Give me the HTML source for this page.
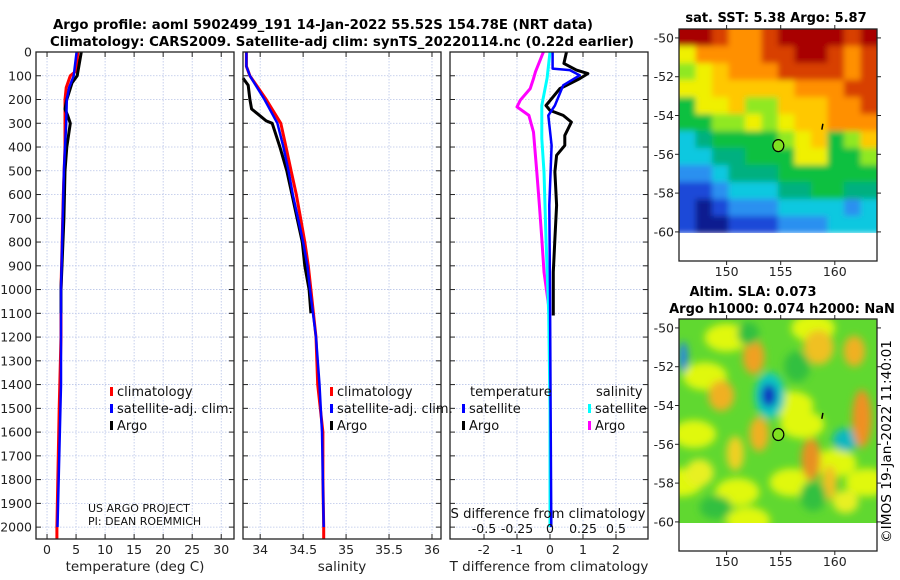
<!DOCTYPE html>
<html><head><meta charset="utf-8">
<style>
html,body{margin:0;padding:0;background:#fff;}
svg{display:block;font-family:"DejaVu Sans","Liberation Sans",sans-serif;}
</style></head>
<body>
<svg id="fig" width="900" height="580" viewBox="0 0 900 580" xmlns="http://www.w3.org/2000/svg">
<defs>
<filter id="blur6" x="-50%" y="-50%" width="200%" height="200%"><feGaussianBlur stdDeviation="4"/></filter>
<filter id="blur2" x="-5%" y="-5%" width="110%" height="110%"><feGaussianBlur stdDeviation="3"/></filter>
<clipPath id="clipSST"><rect x="679" y="29" width="198" height="204"/></clipPath>
<clipPath id="clipSLA"><rect x="679" y="319" width="198" height="204"/></clipPath>
</defs>
<text x="323" y="29" text-anchor="middle" font-weight="bold" font-size="13" textLength="540" lengthAdjust="spacingAndGlyphs">Argo profile: aoml 5902499_191 14-Jan-2022 55.52S 154.78E (NRT data)</text>
<text x="342" y="46" text-anchor="middle" font-weight="bold" font-size="13" textLength="584" lengthAdjust="spacingAndGlyphs">Climatology: CARS2009. Satellite-adj clim: synTS_20220114.nc (0.22d earlier)</text>
<g id="plots"></g>
<g id="maps"></g>
<text transform="translate(891,543) rotate(-90)" font-size="13" textLength="203" lengthAdjust="spacingAndGlyphs">©IMOS 19-Jan-2022 11:40:01</text>
</svg>
<script>
// ---------- data ----------
const tempDepth = [0,80,100,150,200,400,600,1000,1200,1500,2000,2050];
const tempClim  = [5.3,5.0,4.0,3.3,3.1,3.1,2.8,2.4,2.4,2.1,1.7,1.7];
const tempSatDepth = [0,100,150,200,300,500,1000,1400,2000];
const tempSat   = [5.1,4.6,3.8,3.4,3.3,2.9,2.4,2.4,1.8];
const tempArgoDepth = [0,100,130,200,240,270,300,400,500,700,1000,1100];
const tempArgo  = [5.9,5.2,4.3,3.4,3.1,3.6,4.0,3.4,3.1,2.9,2.4,2.4];

const salDepth = [0,60,100,200,300,400,500,600,700,800,900,1000,1200,1400,1600,1800,2000,2050];
const salClim  = [33.84,33.84,33.88,34.07,34.24,34.30,34.36,34.42,34.47,34.52,34.56,34.59,34.65,34.67,34.73,34.73,34.74,34.74];
const salSatDepth = [0,60,100,200,300,400,500,600,700,800,900,1000,1200,1400,1600,2000];
const salSat   = [33.84,33.84,33.88,34.05,34.20,34.27,34.33,34.38,34.44,34.50,34.55,34.58,34.65,34.69,34.72,34.74];
const salArgoDepth = [110,140,200,240,260,290,300,400,500,600,700,800,900,1000,1100];
const salArgo  = [33.80,33.86,33.88,33.90,33.97,34.07,34.14,34.23,34.31,34.37,34.43,34.49,34.52,34.57,34.59];

const dTArgoDepth = [0,48,76,91,112,154,225,246,267,295,351,393,435,505,645,786,926,1109];
const dTArgo = [0.5,0.42,0.8,1.15,0.9,0.3,-0.12,0.0,0.4,0.65,0.45,0.45,0.2,0.15,0.2,0.15,0.1,0.1];
const dTSatDepth = [0,70,76,98,140,225,267,393,645,1000,1500,2000];
const dTSat = [0.08,0.08,0.6,0.9,0.4,0.15,-0.05,0.05,-0.02,0.0,0.02,0.04];
const dSSatDepth = [0,110,225,365,505,786,1100,1500,2000];
const dSSat = [0,-0.022,-0.062,-0.062,-0.045,-0.03,-0.01,0,0];
const dSArgoDepth = [0,83,112,154,203,231,267,337,505,645,786,926,1109];
const dSArgo = [-0.05,-0.11,-0.125,-0.15,-0.225,-0.25,-0.16,-0.125,-0.1,-0.08,-0.062,-0.045,0];

const depthTicks = [0,100,200,300,400,500,600,700,800,900,1000,1100,1200,1300,1400,1500,1600,1700,1800,1900,2000];
const tempTicks = [0,5,10,15,20,25,30];
const salTicks = [34,34.5,35,35.5,36];
const dTTicks = [-2,-1,0,1,2];
const dSTicks = [-0.5,-0.25,0,0.25,0.5];

// SST map grid (0 navy ... 11 dark red), rows north->south
const sstGrid = [
 [11,11,10,9,9,10,11,11,11,11,10,11],
 [7,9,9,9,9,10,10,11,11,10,9,10],
 [6,7,8,9,9,9,10,10,10,10,9,10],
 [7,7,8,8,8,8,8,9,9,9,10,10],
 [5,7,7,8,6,6,8,8,8,9,9,10],
 [5,5,6,6,7,6,7,8,8,9,9,9],
 [3,4,5,5,5,5,6,7,8,5,6,8],
 [3,3,4,4,5,5,5,7,7,5,5,6],
 [2,2,3,4,4,4,5,5,5,5,5,5],
 [1,1,2,3,3,3,4,4,5,5,4,4],
 [1,0,1,2,2,2,3,3,3,3,2,3],
 [1,0,0,1,1,1,2,2,2,3,3,3]];
const sstColors = ['#0a1a90','#1a4ad8','#2a90f0','#10c8e0','#00b080','#10c040','#90e820','#f0f000','#ffc800','#ff9000','#d84000','#a80000'];
// SLA blobs: lon, lat, rx(deg), ry(deg), color
const slaLon = [154.0,153.9,161.0,146.0,152.5,149.5,153.0,157.8,162.5,158.5,161.8,150.8,159.5,147.5,156.5,152.0,158.0,149.0,161.0];
const slaLat = [-53.5,-53.5,-55.8,-51.5,-51.5,-53.5,-55.5,-56.8,-54.7,-51.0,-51.2,-56.5,-58.0,-57.5,-52.0,-50.3,-58.7,-59.3,-59.0];
const slaRx  = [1.4,0.7,1.2,0.4,1.0,1.2,0.9,0.9,0.9,1.4,1.0,0.8,0.7,1.3,1.2,1.0,1.2,1.5,1.2];
const slaRy  = [1.2,0.6,0.6,0.8,0.9,0.8,0.9,1.1,1.5,0.9,0.8,0.9,0.9,0.7,0.8,0.6,0.8,0.6,0.6];
const slaCol = ['#10c8c0','#1030c0','#10b8c0','#2080f0','#f0a020','#f0b020','#f0b020','#e89020','#f09020','#f0c020','#f0b020','#f0d020','#f0c020','#e8f020','#30c040','#30c040','#30c040','#30c040','#e8f020'];

// ---------- helpers ----------
const NS='http://www.w3.org/2000/svg';
function mk(tag, attrs, parent, txt){
  const e=document.createElementNS(NS,tag);
  for(const k in attrs) e.setAttribute(k,attrs[k]);
  if(txt!==undefined) e.textContent=txt;
  parent.appendChild(e); return e;
}
const plots=document.getElementById('plots');
const Y0=52, Y1=539;
const yScale = d => Y0 + d*(Y1-Y0)/2050;

function panel(name, x0, x1, dmin, dmax, ticks, tickFmt, xlabel, showY){
  const g=mk('g',{},plots);
  
  
  const xs = v => x0 + (v-dmin)*(x1-x0)/(dmax-dmin);
  depthTicks.forEach(d=>{
    const l=mk('line',{x1:x0,x2:x1,y1:yScale(d),y2:yScale(d),stroke:'#b8c4e8','stroke-width':0.8,'stroke-dasharray':'1.5,1.5'},g);
    
    
  });
  ticks.forEach(t=>{
    const l=mk('line',{x1:xs(t),x2:xs(t),y1:Y0,y2:Y1,stroke:'#b8c4e8','stroke-width':0.8,'stroke-dasharray':'1.5,1.5'},g);
    
    
  });
  depthTicks.forEach(d=>{
    mk('line',{x1:x0,x2:x0+5,y1:yScale(d),y2:yScale(d),stroke:'#222','stroke-width':1},g);
    mk('line',{x1:x1-5,x2:x1,y1:yScale(d),y2:yScale(d),stroke:'#222','stroke-width':1},g);
    if(showY){
      const t=mk('text',{x:x0-4,y:yScale(d)+4.5,'text-anchor':'end','font-size':12.5,fill:'#222'},g,String(d));
      
      
    }
  });
  ticks.forEach(v=>{
    mk('line',{x1:xs(v),x2:xs(v),y1:Y1-5,y2:Y1,stroke:'#222','stroke-width':1},g);
    mk('line',{x1:xs(v),x2:xs(v),y1:Y0,y2:Y0+5,stroke:'#222','stroke-width':1},g);
    const t=mk('text',{x:xs(v),y:554,'text-anchor':'middle','font-size':12.5,fill:'#222'},g,tickFmt(v));
    
    
  });
  const xl=mk('text',{x:(x0+x1)/2,y:571,'text-anchor':'middle','font-size':13.5,fill:'#222'},g,xlabel);
  
  
  return {g,xs};
}
function line(p, depths, vals, color, w, name){
  const pts = depths.map((d,i)=>p.xs(vals[i]).toFixed(1)+','+yScale(d).toFixed(1)).join(' ');
  const pl=mk('polyline',{points:pts,fill:'none',stroke:color,'stroke-width':w,'stroke-linejoin':'round'},p.g);
  
  
}
function frame(p,x0,x1){
  const r=mk('rect',{x:x0,y:Y0,width:x1-x0,height:Y1-Y0,fill:'none',stroke:'#222','stroke-width':1.3},p.g);
  
  
}
function legend(g, x, y, color, label){
  const m=mk('rect',{x:x,y:y-9,width:3,height:9,fill:color},g);
  
  
  const t=mk('text',{x:x+7,y:y,'font-size':13,fill:'#111'},g,label);
  
  
}

// Panel 1 temperature
const p1=panel('temperature-panel',36,234,-1.9,32.2,tempTicks,v=>String(v),'temperature (deg C)',true);
line(p1,tempDepth,tempClim,'#ff0000',3,'temperature-climatology-line');
line(p1,tempArgoDepth,tempArgo,'#000',3,'temperature-argo-line');
line(p1,tempSatDepth,tempSat,'#0000ff',2.5,'temperature-satellite-line');
frame(p1,36,234);
legend(p1.g,110,396,'#ff0000','climatology');
legend(p1.g,110,413,'#0000ff','satellite-adj. clim.');
legend(p1.g,110,430,'#000','Argo');
let t=mk('text',{x:88,y:512,'font-size':11,fill:'#111'},p1.g,'US ARGO PROJECT');


t=mk('text',{x:88,y:525,'font-size':11,fill:'#111'},p1.g,'PI: DEAN ROEMMICH');



// Panel 2 salinity
const p2=panel('salinity-panel',243,441,33.80,36.105,salTicks,v=>String(v),'salinity',false);
line(p2,salDepth,salClim,'#ff0000',3,'salinity-climatology-line');
line(p2,salArgoDepth,salArgo,'#000',3,'salinity-argo-line');
line(p2,salSatDepth,salSat,'#0000ff',2.5,'salinity-satellite-line');
frame(p2,243,441);
legend(p2.g,330,396,'#ff0000','climatology');
legend(p2.g,330,413,'#0000ff','satellite-adj. clim.');
legend(p2.g,330,430,'#000','Argo');

// Panel 3 differences
const p3=panel('difference-panel',450,648,-3.03,2.97,dTTicks,v=>String(v),'T difference from climatology',false);
const p3s={g:p3.g,xs:v=>p3.xs(v*4)};
line(p3s,dSArgoDepth,dSArgo,'#ff00ff',3,'salinity-argo-diff-line');
line(p3s,dSSatDepth,dSSat,'#00ffff',3,'salinity-satellite-diff-line');
line(p3,dTArgoDepth,dTArgo,'#000',3,'temperature-argo-diff-line');
line(p3,dTSatDepth,dTSat,'#0000ff',2.5,'temperature-satellite-diff-line');
frame(p3,450,648);
t=mk('text',{x:470,y:396,'font-size':13,fill:'#111'},p3.g,'temperature');


t=mk('text',{x:596,y:396,'font-size':13,fill:'#111'},p3.g,'salinity');


legend(p3.g,462,413,'#0000ff','satellite');
legend(p3.g,462,430,'#000','Argo');
legend(p3.g,588,413,'#00ffff','satellite');
legend(p3.g,588,430,'#ff00ff','Argo');
t=mk('text',{x:548,y:518,'text-anchor':'middle','font-size':13.5,fill:'#111',textLength:195,lengthAdjust:'spacingAndGlyphs'},p3.g,'S difference from climatology');


dSTicks.forEach(v=>{
  const s=mk('text',{x:p3s.xs(v),y:533,'text-anchor':'middle','font-size':12.5,fill:'#111'},p3.g,String(v));
  
  
});

// ---------- maps ----------
const maps=document.getElementById('maps');
const MX0=679, MX1=877;
const lonS = lon => MX0 + (lon-145.6)*(MX1-MX0)/(163.9-145.6);
function mapAxes(g, top, bottom, latTopVal, latBotVal){
  const latS = lat => top + (latTopVal-lat)*(bottom-top)/(latTopVal-latBotVal);
  [-50,-52,-54,-56,-58,-60].forEach(l=>{
    mk('line',{x1:MX0-4,x2:MX0,y1:latS(l),y2:latS(l),stroke:'#222'},g);
    mk('line',{x1:MX1,x2:MX1+4,y1:latS(l),y2:latS(l),stroke:'#222'},g);
    const tx=mk('text',{x:MX0-5,y:latS(l)+4.5,'text-anchor':'end','font-size':12.5,fill:'#222'},g,String(l));
    
    
  });
  [150,155,160].forEach(l=>{
    mk('line',{x1:lonS(l),x2:lonS(l),y1:bottom,y2:bottom+4,stroke:'#222'},g);
    mk('line',{x1:lonS(l),x2:lonS(l),y1:top-4,y2:top,stroke:'#222'},g);
    const tx=mk('text',{x:lonS(l),y:bottom+15,'text-anchor':'middle','font-size':12.5,fill:'#222'},g,String(l));
    
    
  });
  const r=mk('rect',{x:MX0,y:top,width:MX1-MX0,height:bottom-top,fill:'none',stroke:'#222','stroke-width':1.3},g);
  
  
  return latS;
}
// SST
const g1=mk('g',{},maps);


const sstTitle=mk('text',{x:776,y:22,'text-anchor':'middle','font-weight':'bold','font-size':13},g1,'sat. SST: 5.38 Argo: 5.87');


const latS1 = lat => 38 + (-50-lat)*(233-38)/10;
const clipG=mk('g',{'clip-path':'url(#clipSST)'},g1);
const cells=mk('g',{filter:'url(#blur2)'},clipG);
const rows=sstGrid.length, cols=sstGrid[0].length;
const cw=(MX1-MX0)/cols, ch=(233-29)/rows;
sstGrid.forEach((row,i)=>row.forEach((v,j)=>{
  const x = MX0+j*cw - (j===0?8:0), y = 29+i*ch - (i===0?8:0);
  const w = cw+0.6 + (j===0?8:0) + (j===cols-1?8:0);
  const c=mk('rect',{x:x,y:y,width:w,height:ch+0.6+(i===0?8:0),fill:sstColors[v]},cells);
  
  
}));
mapAxes(g1,29,261,-49.54,-61.5);
const m1=mk('ellipse',{cx:lonS(154.78),cy:latS1(-55.52),rx:5.5,ry:6,fill:'#80e020',stroke:'#000','stroke-width':1.2},g1);


mk('line',{x1:lonS(158.9),y1:latS1(-54.4),x2:lonS(158.8),y2:latS1(-54.7),stroke:'#000','stroke-width':1.5},g1);

// SLA
const g2=mk('g',{},maps);


let st=mk('text',{x:753,y:296,'text-anchor':'middle','font-weight':'bold','font-size':13},g2,'Altim. SLA: 0.073');


st=mk('text',{x:782,y:313,'text-anchor':'middle','font-weight':'bold','font-size':13},g2,'Argo h1000: 0.074 h2000: NaN');


const latS2 = lat => 328 + (-50-lat)*(521-328)/10;
const sg=mk('g',{'clip-path':'url(#clipSLA)'},g2);
mk('rect',{x:MX0,y:319,width:MX1-MX0,height:204,fill:'#60d830'},sg);
const bl=mk('g',{filter:'url(#blur6)'},sg);
[[150,-50.5],[158,-50],[148,-52.5],[156,-54],[151,-58.5],[156,-58],[160,-57],[163,-58],[147,-55.5],[157,-55],[152,-60],[145.8,-58]].forEach(p=>{
  mk('ellipse',{cx:lonS(p[0]),cy:latS2(p[1]),rx:22,ry:14,fill:'#e0f810'},bl);
});
slaLon.forEach((lon,i)=>{
  const e=mk('ellipse',{cx:lonS(lon),cy:latS2(slaLat[i]),rx:slaRx[i]*10.8,ry:slaRy[i]*19.3,fill:slaCol[i]},bl);
  
  
});
mapAxes(g2,319,551,-49.54,-61.5);
const m2=mk('ellipse',{cx:lonS(154.78),cy:latS2(-55.52),rx:5.5,ry:6,fill:'#80e020',stroke:'#000','stroke-width':1.2},g2);


mk('line',{x1:lonS(158.9),y1:latS2(-54.4),x2:lonS(158.8),y2:latS2(-54.7),stroke:'#000','stroke-width':1.5},g2);
</script>
</body></html>
